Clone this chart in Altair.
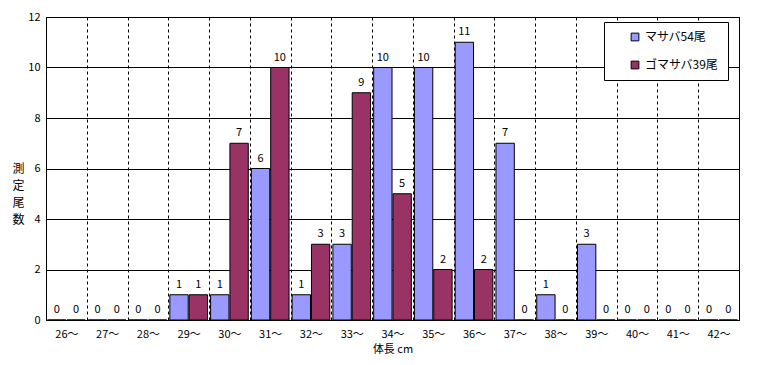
import altair as alt
import pandas as pd

categories = ["26～", "27～", "28～", "29～", "30～", "31～", "32～", "33～", "34～",
              "35～", "36～", "37～", "38～", "39～", "40～", "41～", "42～"]
masaba = [0, 0, 0, 1, 1, 6, 1, 3, 10, 10, 11, 7, 1, 3, 0, 0, 0]
gomasaba = [0, 0, 0, 1, 7, 10, 3, 9, 5, 2, 2, 0, 0, 0, 0, 0, 0]
series_names = ["マサバ54尾", "ゴマサバ39尾"]
series_colors = ["#9999FF", "#993366"]

rows = []
for c, a, b in zip(categories, masaba, gomasaba):
    rows.append({"cat": c, "series": series_names[0], "value": a})
    rows.append({"cat": c, "series": series_names[1], "value": b})
df = pd.DataFrame(rows)

FONT = "Noto Sans CJK JP"

x = alt.X("cat:N", sort=categories,
          scale=alt.Scale(paddingInner=0, paddingOuter=0),
          axis=alt.Axis(title="体長 cm", labelAngle=0, tickBand="extent",
                        grid=True, gridColor="black", gridDash=[3, 3], gridOpacity=1,
                        ticks=False, domain=False, labelPadding=8, titlePadding=4,
                        labelFont=FONT, titleFont=FONT, labelFontSize=11,
                        titleFontSize=11, titleFontWeight="normal",
                        labelColor="black", titleColor="black"))
xo = alt.XOffset("series:N", sort=series_names,
                 scale=alt.Scale(paddingInner=0.05, paddingOuter=0.08))
y = alt.Y("value:Q", scale=alt.Scale(domain=[0, 12], nice=False),
          axis=alt.Axis(title=["測", "定", "尾", "数"], titleAngle=0, titleLineHeight=17,
                        titleBaseline="middle", titleAlign="center", titleX=-28,
                        values=[0, 2, 4, 6, 8, 10, 12], grid=True, gridColor="black",
                        gridOpacity=1, ticks=False, domain=False, labelPadding=6,
                        labelFont=FONT, titleFont=FONT, labelFontSize=11,
                        titleFontSize=12, titleFontWeight="normal",
                        labelColor="black", titleColor="black"))

bars = alt.Chart(df).mark_bar(stroke="black", strokeWidth=1).encode(
    x=x, xOffset=xo, y=y,
    color=alt.Color("series:N", sort=series_names,
                    scale=alt.Scale(domain=series_names, range=series_colors),
                    legend=alt.Legend(title=None, orient="none", legendX=558, legendY=5,
                                      strokeColor="black", fillColor="white",
                                      padding=9, symbolOffset=16, rowPadding=16,
                                      symbolType="square", symbolSize=60,
                                      symbolStrokeColor="black", symbolStrokeWidth=1,
                                      labelFont=FONT, labelFontSize=12, labelColor="black",
                                      labelLimit=200, offset=0))
)

labels = alt.Chart(df).mark_text(dy=-7, baseline="alphabetic", font=FONT,
                                 fontSize=11, color="black").encode(
    x=alt.X("cat:N", sort=categories), xOffset=xo, y=y, text="value:Q"
)

chart = (bars + labels).properties(
    width=693, height=303,
    padding={"left": 38, "top": 9, "right": 5, "bottom": 40},
    autosize=alt.AutoSizeParams(type="none"),
).configure_view(stroke="black", strokeWidth=1)

chart.save("out.html", embed_options={"renderer": "svg", "actions": False})
